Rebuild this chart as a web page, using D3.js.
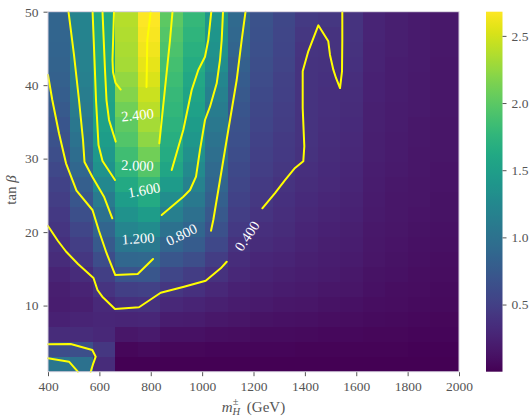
<!DOCTYPE html>
<html>
<head>
<meta charset="utf-8">
<script src="https://cdn.jsdelivr.net/npm/d3@7"></script>
<style>
  body { margin: 0; background: #ffffff; }
  text { font-family: "Liberation Serif", "Times New Roman", serif; }
</style>
</head>
<body>
<svg id="chart" width="530" height="416"></svg>
<script>
// Charged Higgs mass grid edges (GeV)
const massEdges = [400, 487.5, 575, 662.5, 750, 837.5, 925, 1012.5, 1100, 1187.5,
  1275, 1362.5, 1450, 1537.5, 1625, 1712.5, 1800, 1887.5, 2000];
// tan(beta) grid edges
const tanbEdges = [1, 3.04, 5.08, 7.13, 9.17, 11.21, 13.25, 15.29, 17.33, 19.38, 21.42,
  23.46, 25.5, 27.54, 29.58, 31.63, 33.67, 35.71, 37.75, 39.79, 41.83, 43.88, 45.92, 47.96, 50];

// Cell values, one row per tan(beta) bin, listed from the top bin (tanβ ≈ 48–50) down to tanβ ≈ 1–3
const ratioRows = [
  [0.86, 1.20, 1.60, 2.38, 2.68, 2.00, 1.78, 1.42, 0.92, 0.67, 0.57, 0.46, 0.42, 0.39, 0.27, 0.22, 0.19, 0.17],
  [0.86, 1.20, 1.60, 2.36, 2.65, 1.96, 1.74, 1.40, 0.90, 0.66, 0.56, 0.42, 0.39, 0.39, 0.27, 0.22, 0.19, 0.17],
  [0.85, 1.19, 1.60, 2.34, 2.62, 1.92, 1.70, 1.36, 0.86, 0.65, 0.55, 0.40, 0.39, 0.38, 0.26, 0.22, 0.19, 0.17],
  [0.84, 1.18, 1.59, 2.32, 2.58, 1.88, 1.65, 1.31, 0.81, 0.63, 0.54, 0.39, 0.38, 0.37, 0.26, 0.21, 0.19, 0.16],
  [0.82, 1.16, 1.58, 2.25, 2.53, 1.84, 1.60, 1.23, 0.77, 0.61, 0.52, 0.39, 0.37, 0.35, 0.25, 0.21, 0.18, 0.16],
  [0.79, 1.13, 1.56, 2.18, 2.47, 1.80, 1.56, 1.17, 0.74, 0.59, 0.51, 0.39, 0.36, 0.34, 0.25, 0.21, 0.18, 0.16],
  [0.75, 1.10, 1.54, 2.10, 2.40, 1.76, 1.52, 1.12, 0.71, 0.57, 0.49, 0.39, 0.36, 0.33, 0.24, 0.20, 0.18, 0.16],
  [0.71, 1.06, 1.52, 2.02, 2.32, 1.72, 1.47, 1.07, 0.68, 0.55, 0.48, 0.39, 0.35, 0.32, 0.24, 0.20, 0.17, 0.15],
  [0.67, 1.01, 1.48, 1.95, 2.22, 1.68, 1.42, 1.02, 0.65, 0.53, 0.46, 0.39, 0.34, 0.31, 0.23, 0.19, 0.17, 0.15],
  [0.63, 0.95, 1.43, 1.86, 2.10, 1.64, 1.35, 0.97, 0.62, 0.51, 0.44, 0.38, 0.33, 0.30, 0.22, 0.19, 0.16, 0.15],
  [0.58, 0.88, 1.36, 1.75, 1.96, 1.58, 1.27, 0.92, 0.59, 0.49, 0.42, 0.36, 0.32, 0.29, 0.21, 0.18, 0.16, 0.14],
  [0.53, 0.80, 1.25, 1.62, 1.80, 1.46, 1.18, 0.87, 0.56, 0.46, 0.39, 0.34, 0.31, 0.28, 0.20, 0.17, 0.15, 0.14],
  [0.49, 0.72, 1.10, 1.48, 1.63, 1.30, 1.08, 0.81, 0.53, 0.43, 0.37, 0.32, 0.29, 0.26, 0.19, 0.16, 0.15, 0.13],
  [0.45, 0.64, 0.98, 1.36, 1.47, 1.15, 0.98, 0.74, 0.49, 0.40, 0.35, 0.30, 0.27, 0.25, 0.18, 0.16, 0.14, 0.13],
  [0.41, 0.56, 0.86, 1.22, 1.28, 1.00, 0.87, 0.66, 0.44, 0.36, 0.33, 0.28, 0.25, 0.23, 0.17, 0.15, 0.13, 0.12],
  [0.37, 0.49, 0.75, 1.05, 1.08, 0.86, 0.77, 0.58, 0.39, 0.33, 0.30, 0.26, 0.23, 0.21, 0.16, 0.14, 0.12, 0.11],
  [0.33, 0.42, 0.62, 0.88, 0.90, 0.72, 0.63, 0.48, 0.34, 0.29, 0.27, 0.24, 0.21, 0.19, 0.15, 0.13, 0.11, 0.10],
  [0.27, 0.33, 0.50, 0.70, 0.72, 0.56, 0.48, 0.38, 0.30, 0.26, 0.24, 0.21, 0.19, 0.17, 0.13, 0.12, 0.10, 0.09],
  [0.23, 0.26, 0.40, 0.50, 0.52, 0.42, 0.37, 0.30, 0.25, 0.22, 0.20, 0.18, 0.16, 0.15, 0.12, 0.10, 0.09, 0.08],
  [0.21, 0.23, 0.31, 0.37, 0.38, 0.30, 0.27, 0.24, 0.20, 0.18, 0.16, 0.15, 0.13, 0.12, 0.10, 0.09, 0.08, 0.07],
  [0.25, 0.27, 0.29, 0.28, 0.29, 0.21, 0.20, 0.17, 0.15, 0.13, 0.12, 0.11, 0.10, 0.09, 0.08, 0.07, 0.06, 0.05],
  [0.33, 0.33, 0.30, 0.16, 0.18, 0.12, 0.12, 0.10, 0.09, 0.08, 0.08, 0.07, 0.06, 0.06, 0.05, 0.05, 0.04, 0.04],
  [0.62, 0.64, 0.42, 0.05, 0.07, 0.05, 0.05, 0.04, 0.04, 0.04, 0.04, 0.03, 0.03, 0.03, 0.03, 0.03, 0.02, 0.02],
  [1.05, 1.00, 0.33, 0.01, 0.01, 0.01, 0.01, 0.01, 0.01, 0.01, 0.01, 0.01, 0.01, 0.01, 0.01, 0.01, 0.01, 0.01]
];

// Iso-lines, each as [mass, tanβ] polylines; the first two pieces of a level meet at its label
const contour040 = [
  [[1545.7, 50], [1545.7, 46.15], [1544.5, 41.89], [1536.8, 39.61], [1521.2, 40.98], [1510.7, 42.11],
   [1497.8, 44.11], [1491.2, 45.97], [1452.3, 48.15], [1413.3, 44.61], [1391.5, 41.89], [1391.5, 36.89],
   [1397.8, 31.68], [1393.9, 29.64], [1361.6, 28.73], [1322.6, 27.09], [1283.7, 25.32], [1234.3, 23.24]],
  [[1095.7, 15.97], [1072.3, 15.07], [1013.9, 13.39], [929.4, 12.57], [838.7, 11.75], [754.3, 9.77],
   [660.8, 9.53], [611.4, 11.21], [592.7, 12.12], [577.1, 13.75], [516.8, 15.66], [470.1, 17.36],
   [438.9, 18.79], [400, 20.83]],
  [[400, 4.73], [488.4, 4.77], [572.5, 3.95], [585.7, 3.04], [576.4, 2.14], [566.2, 1.0]]
];
const contour080 = [
  [[400, 41.38], [416.7, 37.98], [442.8, 33.45], [470.1, 29.37], [511, 25.66], [573.2, 23.01],
   [598.5, 20.15], [627.7, 17.16], [662, 14.16], [749.2, 14.30], [808.8, 16.34]],
  [[1034.6, 20.19], [1043.5, 21.65], [1069.6, 27.09], [1101.9, 33.90], [1134.6, 40.70],
   [1154.1, 46.15], [1168.9, 50]],
  [[400, 2.82], [481.8, 2.36], [516, 1.0]]
];
const contour120 = [
  [[479.8, 50], [501.2, 44.11], [520.7, 37.98], [536.3, 32.54], [542.1, 29.54], [572.5, 27.54],
   [618, 24.82], [650.3, 21.88]],
  [[842.6, 22.33], [926.7, 24.82], [952.8, 25.73], [976.2, 27.54], [991.7, 31.18], [1011.2, 35.26],
   [1030.7, 37.07], [1056.8, 40.25], [1069.6, 43.43], [1076.2, 46.15], [1081.3, 50]]
];
const contour160 = [
  [[573.6, 50], [581, 43.43], [586.9, 37.98], [596.6, 31.86], [612.2, 29.68], [660.8, 27.09]],
  [[881.6, 28.45], [926.7, 33.90], [959.4, 39.34], [985.1, 42.06], [1011.2, 43.87], [1024, 46.15],
   [1035.7, 50]]
];
const contour200 = [
  [[612.2, 50], [621.9, 42.06], [627.7, 37.98], [637.5, 35.26], [663.6, 32.31]],
  [[833.3, 32.09], [875, 46.15], [884.7, 50]]
];
const contour240 = [
  [[656.9, 50], [651.1, 43.43], [653, 41.79], [662.8, 40.30], [683, 39.41]],
  [[783.5, 39.75], [786.6, 46.15], [799.8, 50]]
];
const contourLevels = [0.4, 0.8, 1.2, 1.6, 2.0, 2.4];
// Label anchor for each level: [level, mass, tanβ]
const contourLabelSpots = [
  [0.4, 1174.7, 19.47], [0.8, 919.7, 19.67], [1.2, 750.4, 19.13],
  [1.6, 773.7, 25.73], [2.0, 748.4, 29.07], [2.4, 748.4, 35.94]
];

const massTicks = [400, 600, 800, 1000, 1200, 1400, 1600, 1800, 2000];
const tanbTicks = [10, 20, 30, 40, 50];
const colorTicks = [0.5, 1.0, 1.5, 2.0, 2.5];
const colorDomain = [0, 2.68];

const contourTable = [contour040, contour080, contour120, contour160, contour200, contour240]
  .map((pieces, i) => ({ level: contourLevels[i], pieces }));

const svg = d3.select("#chart");
const W = 530, H = 416;
const plot = { left: 48, right: 459, top: 11.7, bottom: 371.7 };
const grey = "#555555";

const x = d3.scaleLinear().domain([400, 2000]).range([plot.left, plot.right]);
const y = d3.scaleLinear().domain([1, 50]).range([plot.bottom, plot.top]);
const color = d3.scaleSequential(d3.interpolateViridis).domain(colorDomain);

svg.append("rect").attr("width", W).attr("height", H).attr("fill", "#ffffff");

// heat map cells
const nRows = ratioRows.length;
const cells = [];
ratioRows.forEach((row, r) => row.forEach((v, c) => {
  cells.push({ m0: massEdges[c], m1: massEdges[c + 1],
               t0: tanbEdges[nRows - 1 - r], t1: tanbEdges[nRows - r], v });
}));
svg.append("g").selectAll("rect").data(cells).join("rect")
  .attr("x", d => x(d.m0))
  .attr("y", d => y(d.t1))
  .attr("width", d => x(d.m1) - x(d.m0))
  .attr("height", d => y(d.t0) - y(d.t1))
  .attr("fill", d => color(d.v))
  .attr("shape-rendering", "crispEdges");

// iso-lines
const line = d3.line().x(d => x(d[0])).y(d => y(d[1]));
const cg = svg.append("g");
contourTable.forEach(c => {
  cg.selectAll(null).data(c.pieces).join("path")
    .attr("d", line)
    .attr("fill", "none")
    .attr("stroke", "#ffff00")
    .attr("stroke-width", 2)
    .attr("stroke-linejoin", "round")
    .attr("stroke-linecap", "round");
});

// iso-line labels, turned along the gap they sit in
contourLabelSpots.forEach(([level, m, t]) => {
  const pieces = contourTable.find(c => c.level === level).pieces;
  const a = pieces[0][pieces[0].length - 1], b = pieces[1][0];
  let ang = Math.atan2(y(b[1]) - y(a[1]), x(b[0]) - x(a[0])) * 180 / Math.PI;
  if (ang > 90) ang -= 180;
  if (ang < -90) ang += 180;
  svg.append("text")
    .attr("transform", `translate(${x(m)},${y(t)}) rotate(${ang})`)
    .attr("text-anchor", "middle")
    .attr("dominant-baseline", "central")
    .attr("font-size", "14.5px")
    .attr("fill", "#ffffff")
    .text(level.toFixed(3));
});

// frame
svg.append("rect")
  .attr("x", plot.left).attr("y", plot.top)
  .attr("width", plot.right - plot.left).attr("height", plot.bottom - plot.top)
  .attr("fill", "none").attr("stroke", "#d6d0de").attr("stroke-width", 1);

// axes
const xAxis = svg.append("g").attr("transform", `translate(0,${plot.bottom + 0.5})`)
  .call(d3.axisBottom(x).tickValues(massTicks).tickSize(4).tickPadding(5).tickFormat(d3.format("d")));
const yAxis = svg.append("g").attr("transform", `translate(${plot.left - 0.5},0)`)
  .call(d3.axisLeft(y).tickValues(tanbTicks).tickSize(4).tickPadding(5).tickFormat(d3.format("d")));
[xAxis, yAxis].forEach(g => {
  g.select(".domain").remove();
  g.selectAll(".tick line").attr("stroke", grey);
  g.selectAll(".tick text").attr("fill", grey).attr("font-size", "13.5px")
    .attr("font-family", "'Liberation Serif', 'Times New Roman', serif");
});

// axis titles
const xt = svg.append("text").attr("x", (plot.left + plot.right) / 2).attr("y", 411.5)
  .attr("text-anchor", "middle").attr("fill", grey).attr("font-size", "15px");
xt.append("tspan").attr("font-style", "italic").text("m");
xt.append("tspan").attr("font-size", "10.5px").attr("dy", -6.5).text("±");
xt.append("tspan").attr("font-size", "10.5px").attr("font-style", "italic").attr("dx", -5.9).attr("dy", 9.5).text("H");
xt.append("tspan").attr("dy", -3).attr("dx", 3).text(" (GeV)");

const yt = svg.append("text").attr("transform", "translate(16,190) rotate(-90)")
  .attr("text-anchor", "middle").attr("fill", grey).attr("font-size", "15px");
yt.append("tspan").text("tan ");
yt.append("tspan").attr("font-style", "italic").text("β");

// colour bar
const cb = { left: 486, width: 16.5 };
const cbScale = d3.scaleLinear().domain(colorDomain).range([plot.bottom, plot.top]);
const grad = svg.append("defs").append("linearGradient").attr("id", "cbgrad")
  .attr("x1", 0).attr("y1", 1).attr("x2", 0).attr("y2", 0);
d3.range(0, 1.0001, 0.02).forEach(f => {
  grad.append("stop").attr("offset", f).attr("stop-color", d3.interpolateViridis(f));
});
svg.append("rect").attr("x", cb.left).attr("y", plot.top)
  .attr("width", cb.width).attr("height", plot.bottom - plot.top)
  .attr("fill", "url(#cbgrad)");
const cAxis = svg.append("g").attr("transform", `translate(${cb.left + cb.width},0)`)
  .call(d3.axisRight(cbScale).tickValues(colorTicks).tickSize(4).tickPadding(5).tickFormat(d3.format(".1f")));
cAxis.select(".domain").remove();
cAxis.selectAll(".tick line").attr("stroke", grey);
cAxis.selectAll(".tick text").attr("fill", grey).attr("font-size", "13.5px")
  .attr("font-family", "'Liberation Serif', 'Times New Roman', serif");
</script>
</body>
</html>
